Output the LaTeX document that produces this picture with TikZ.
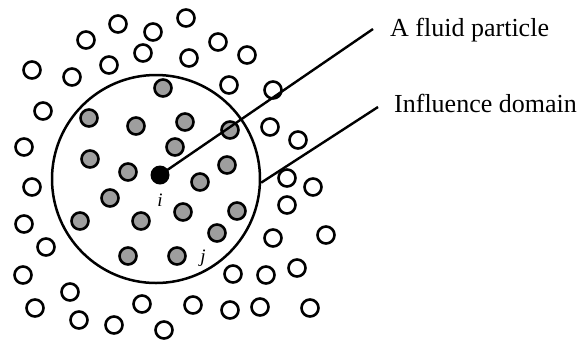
\documentclass[tikz,border=0pt]{standalone}
\usepackage{fontspec}
\setmainfont{Liberation Serif}
\begin{document}
\begin{tikzpicture}[x=1pt,y=-1pt,
  openp/.style={circle,draw=black,line width=2.6pt,fill=white,minimum size=17pt,inner sep=0pt},
  grayp/.style={circle,draw=black,line width=2.6pt,fill=black!38,minimum size=17pt,inner sep=0pt},
  blackp/.style={circle,fill=black,minimum size=19pt,inner sep=0pt},
  leader/.style={line width=2.4pt},
  lbl/.style={font=\fontsize{26}{30}\selectfont,inner sep=0pt,anchor=base west},
  idx/.style={font=\fontsize{19}{22}\selectfont\itshape,inner sep=0pt}]
\useasboundingbox (0,0) rectangle (581,341);
% influence domain
\node[circle,draw=black,line width=2.5pt,minimum size=208pt,inner sep=0pt] (dom) at (156,179) {};
% open particles
\foreach \x/\y [count=\k] in {118/24,186/18,153/32,86/40,143/53,189/58,218/42,247/55,109/65,32/70,72/77,229/85,273/90,43/111,270/127,298/140,24/147,32/187,24/224,46/247,23/275,70/292,35/308,79/320,114/325,142/304,164/330,193/305,287/178,313/187,287/205,273/238,326/235,233/274,266/275,297/268,230/310,260/307,310/308}
  \node[openp] (o\k) at (\x,\y) {};
% gray particles (neighbours)
\foreach \x/\y [count=\k] in {163/88,89/118,136/126,185/122,230/130,175/147,90/159,128/172,227/165,200/182,110/198,80/221,141/221,183/212,237/211,217/233,128/256,177/256}
  \node[grayp] (g\k) at (\x,\y) {};
% particle i
\node[blackp] (i) at (160,175) {};
\node[idx] (ilab) at (160,200) {i};
\node[idx] (jlab) at (203,258) {j};
% labels
\node[lbl] (t1) at (390,36) {A fluid particle};
\node[lbl] (t2) at (394,112) {Influence domain};
\coordinate (e1) at (373,29);
\coordinate (e2) at (378,107);
\draw[leader] (i.center) -- (e1);
\draw[leader] (dom.-2) -- (e2);
\end{tikzpicture}
\end{document}
